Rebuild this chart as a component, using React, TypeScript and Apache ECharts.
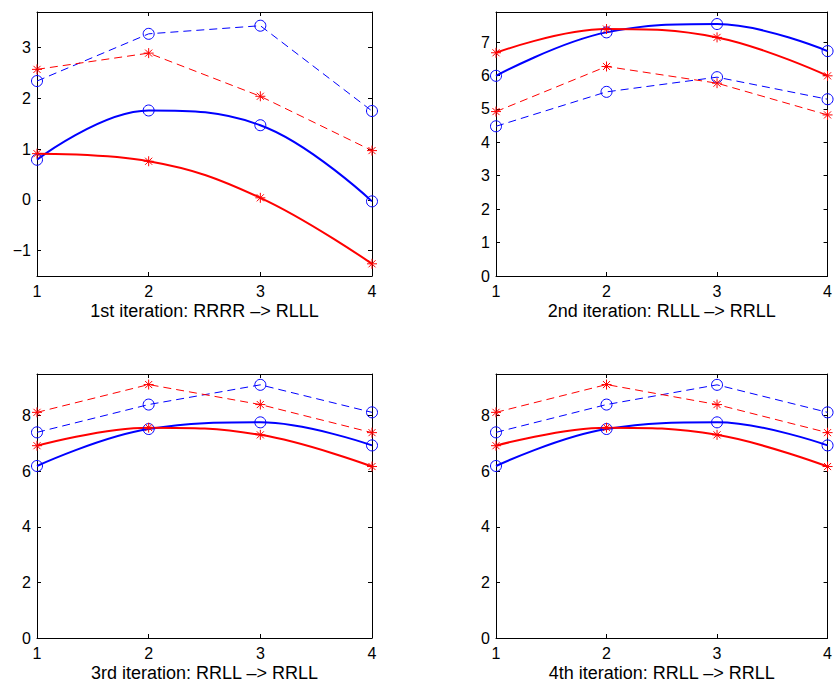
import React, { useEffect, useRef } from 'react';
import * as echarts from 'echarts';

const X_VALUES = [1, 2, 3, 4];

// 1st iteration
const it1BlueDashed = [2.34, 3.27, 3.43, 1.75];
const it1RedDashed = [2.57, 2.89, 2.04, 0.97];
const it1BlueSolid = [0.79, 1.76, 1.47, -0.03];
const it1RedSolid = [0.91, 0.76, 0.04, -1.26];
// 2nd iteration
const it2BlueDashed = [4.48, 5.51, 5.95, 5.29];
const it2RedDashed = [4.92, 6.27, 5.77, 4.82];
const it2BlueSolid = [5.99, 7.29, 7.54, 6.73];
const it2RedSolid = [6.68, 7.39, 7.14, 5.99];
// 3rd iteration
const it3BlueDashed = [7.4, 8.4, 9.11, 8.12];
const it3RedDashed = [8.12, 9.12, 8.4, 7.39];
const it3BlueSolid = [6.19, 7.52, 7.76, 6.93];
const it3RedSolid = [6.92, 7.57, 7.31, 6.17];
// 4th iteration
const it4BlueDashed = [7.4, 8.4, 9.11, 8.12];
const it4RedDashed = [8.12, 9.12, 8.4, 7.39];
const it4BlueSolid = [6.19, 7.52, 7.76, 6.93];
const it4RedSolid = [6.92, 7.57, 7.31, 6.17];

const TITLES = [
  '1st iteration: RRRR –> RLLL',
  '2nd iteration: RLLL –> RRLL',
  '3rd iteration: RRLL –> RRLL',
  '4th iteration: RRLL –> RRLL',
];
const Y_MIN = [-1.5, 0, 0, 0];
const Y_MAX = [3.7, 7.9, 9.5, 9.5];
const Y_STEP = [1, 1, 2, 2];

const PANELS = [
  { blueDashed: it1BlueDashed, redDashed: it1RedDashed, blueSolid: it1BlueSolid, redSolid: it1RedSolid },
  { blueDashed: it2BlueDashed, redDashed: it2RedDashed, blueSolid: it2BlueSolid, redSolid: it2RedSolid },
  { blueDashed: it3BlueDashed, redDashed: it3RedDashed, blueSolid: it3BlueSolid, redSolid: it3RedSolid },
  { blueDashed: it4BlueDashed, redDashed: it4RedDashed, blueSolid: it4BlueSolid, redSolid: it4RedSolid },
];

const BLUE = '#0000ff';
const RED = '#ff0000';
const FONT = '"Liberation Sans", Arial, Helvetica, sans-serif';
const ASTERISK = 'path://M0,-5L0,5M-5,0L5,0M-3.54,-3.54L3.54,3.54M-3.54,3.54L3.54,-3.54';

const GRID_POS = [
  { left: 37, top: 12 },
  { left: 496, top: 12 },
  { left: 37, top: 374 },
  { left: 496, top: 374 },
];

export default function App() {
  const ref = useRef<HTMLDivElement>(null);
  useEffect(() => {
    if (!ref.current) return;
    const chart = echarts.init(ref.current, undefined, { renderer: 'svg' });

    const grids: any[] = [];
    const xAxes: any[] = [];
    const yAxes: any[] = [];
    const series: any[] = [];

    PANELS.forEach((p, gi) => {
      grids.push({ left: GRID_POS[gi].left, top: GRID_POS[gi].top, width: 335, height: 264, containLabel: false });
      const step = Y_STEP[gi];
      const yInterval = Y_MIN[gi] % step === 0 ? step : undefined;
      const axisCommon = {
        axisLine: { show: true, onZero: false, lineStyle: { color: '#000', width: 1 } },
        axisTick: { show: true, inside: true, length: 4, lineStyle: { color: '#000', width: 1 } },
        splitLine: { show: false },
      };
      xAxes.push({
        type: 'value', gridIndex: gi, position: 'bottom', min: 1, max: 4, interval: 1,
        ...axisCommon,
        axisLabel: { show: true, margin: 7, color: '#000', fontSize: 16, fontFamily: FONT },
        name: TITLES[gi], nameLocation: 'middle', nameGap: 26,
        nameTextStyle: { color: '#000', fontSize: 18, fontFamily: FONT },
      });
      xAxes.push({
        type: 'value', gridIndex: gi, position: 'top', min: 1, max: 4, interval: 1,
        ...axisCommon,
        axisLabel: { show: false },
      });
      const yLabelFmt = (v: number) => {
        const r = Math.round(v);
        if (Math.abs(v - r) > 1e-9 || r % step !== 0) return '';
        return String(r).replace('-', '−');
      };
      yAxes.push({
        type: 'value', gridIndex: gi, position: 'left', min: Y_MIN[gi], max: Y_MAX[gi],
        interval: yInterval, splitNumber: 5,
        ...axisCommon,
        axisLabel: {
          show: true, margin: 6, color: '#000', fontSize: 16, fontFamily: FONT,
          showMinLabel: Y_MIN[gi] % step === 0, showMaxLabel: false, formatter: yLabelFmt,
        },
      });
      yAxes.push({
        type: 'value', gridIndex: gi, position: 'right', min: Y_MIN[gi], max: Y_MAX[gi],
        interval: yInterval, splitNumber: 5,
        ...axisCommon,
        axisLabel: { show: false },
      });

      const mk = (values: number[], color: string, dashed: boolean, marker: 'circle' | 'star', z: number) => ({
        type: 'line',
        xAxisIndex: gi * 2,
        yAxisIndex: gi * 2,
        data: X_VALUES.map((x, i) => [x, values[i]]),
        smooth: dashed ? false : 0.4,
        symbol: marker === 'circle' ? 'circle' : ASTERISK,
        symbolSize: marker === 'circle' ? 11 : 10,
        symbolKeepAspect: true,
        showSymbol: true,
        clip: false,
        silent: true,
        z,
        lineStyle: { color, width: dashed ? 1 : 2, type: dashed ? [8, 5] : 'solid' },
        itemStyle: { color: 'rgba(0,0,0,0)', borderColor: color, borderWidth: 1 },
        emphasis: { disabled: true },
      });
      series.push(mk(p.blueDashed, BLUE, true, 'circle', 2));
      series.push(mk(p.redDashed, RED, true, 'star', 2));
      series.push(mk(p.blueSolid, BLUE, false, 'circle', 3));
      series.push(mk(p.redSolid, RED, false, 'star', 3));
    });

    chart.setOption({
      animation: false,
      backgroundColor: '#ffffff',
      grid: grids,
      xAxis: xAxes,
      yAxis: yAxes,
      series,
    });
    return () => chart.dispose();
  }, []);

  return (
    <div
      ref={ref}
      style={{ position: 'fixed', left: 0, top: 0, width: 835, height: 685, background: '#fff' }}
    />
  );
}
